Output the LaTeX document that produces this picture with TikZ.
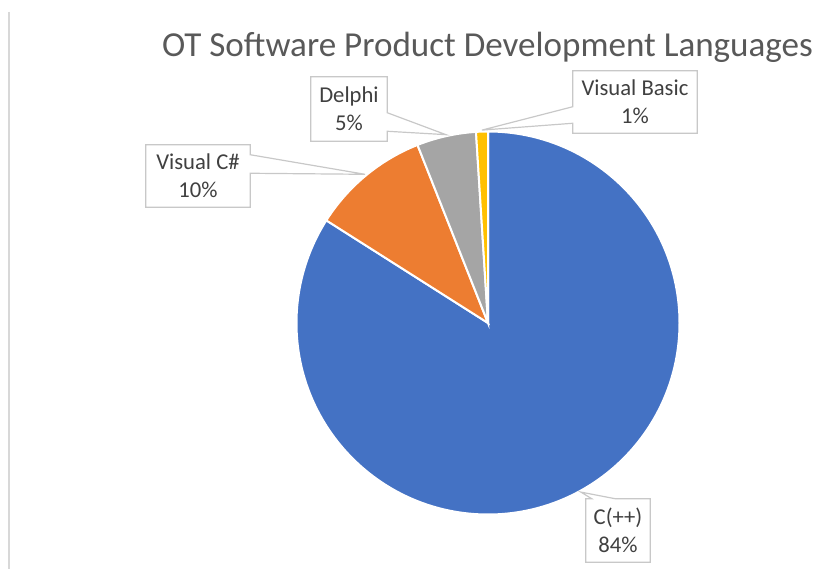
\documentclass[tikz,border=0pt]{standalone}
\usepackage{fontspec}
\setmainfont{Carlito}
\usetikzlibrary{calc}
\definecolor{cppblue}{HTML}{4472C4}
\definecolor{csorange}{HTML}{ED7D31}
\definecolor{delgray}{HTML}{A5A5A5}
\definecolor{vbgold}{HTML}{FFC000}
\definecolor{titlegray}{HTML}{595959}
\definecolor{labelgray}{HTML}{404040}
\definecolor{boxgray}{HTML}{C8C8C8}
\def\rad{191.5}
\def\slice[#1](#2:#3){\filldraw[#1,draw=white,line width=1.5pt] (ctr) -- ++(#2:\rad) arc (#2:#3:\rad) -- cycle;}

\begin{document}
\begin{tikzpicture}[x=0.75pt,y=0.75pt,
	lbl/.style={fill=white,text=labelgray,align=center,inner sep=0pt,
		font=\fontsize{17}{21}\selectfont},
	callout/.style={draw=boxgray,line width=0.9pt}]
				\useasboundingbox (0,0) rectangle (819,569);
				\draw[boxgray!70,line width=0.9pt] (9,557) -- (9,0);
				
				\node[anchor=base,text=titlegray,font=\fontsize{26.3}{30}\selectfont] (title) at (487.5,512) {OT Software Product Development Languages};
				
				\coordinate (ctr) at (488,246);
				\slice[cppblue](90:-212.4)
				\slice[csorange](147.6:111.6)
				\slice[delgray](111.6:93.6)
				\slice[vbgold](93.6:90)
				
				\coordinate (tcp) at ($(ctr)+(-61.2:193)$);
				\coordinate (tvc) at ($(ctr)+(129.6:193)$);
				\coordinate (tdp) at ($(ctr)+(102.6:193)$);
				\coordinate (tvb) at ($(ctr)+(91.8:193)$);
				
				\node[lbl,minimum width=57pt,minimum height=48pt] (dp) at (349,460) {Delphi\\5\%};
				\draw[callout] (dp.north west) -- (dp.north east) -- ($(dp.north east)+(0,-36)$) -- (tdp) -- ($(dp.south east)+(0,10)$) -- (dp.south east) -- (dp.south west) -- cycle;
				
				\node[lbl,minimum width=78pt,minimum height=46.5pt] (vc) at (198,393) {Visual C\#\\10\%};
				\draw[callout] (vc.north west) -- (vc.north east) -- ($(vc.north east)+(0,-10)$) -- (tvc) -- ($(vc.south east)+(0,34)$) -- (vc.south east) -- (vc.south west) -- cycle;
				
				\node[lbl,minimum width=93pt,minimum height=46.5pt] (vb) at (635,467) {Visual Basic\\1\%};
				\draw[callout] (vb.north east) -- (vb.north west) -- ($(vb.north west)+(0,-36)$) -- (tvb) -- ($(vb.south west)+(0,10)$) -- (vb.south west) -- (vb.south east) -- cycle;
				
				\node[lbl,minimum width=48pt,minimum height=47.25pt] (cp) at (618,38.5) {C(++)\\84\%};
				\draw[callout] (cp.south west) -- (cp.north west) -- ($(cp.north west)+(6,0)$) -- (tcp) -- ($(cp.north east)+(-35,0)$) -- (cp.north east) -- (cp.south east) -- cycle;
			\end{tikzpicture}
\end{document}
